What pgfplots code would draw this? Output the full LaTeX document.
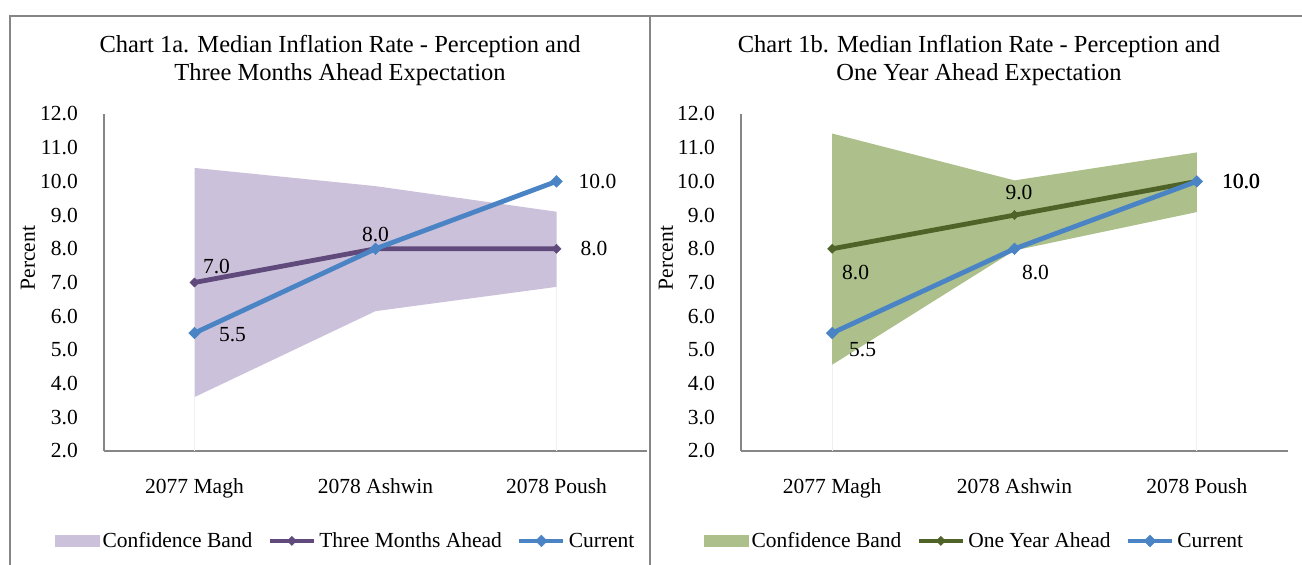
\documentclass[border=0pt]{standalone}
\usepackage{fontspec}
\setmainfont{Liberation Serif}
\usepackage{pgfplots}
\pgfplotsset{compat=1.18}
\usepgfplotslibrary{fillbetween}
\definecolor{bandA}{HTML}{CCC1DA}
\definecolor{lineA}{HTML}{5F4A7B}
\definecolor{blueC}{HTML}{4A84C4}
\definecolor{bandB}{HTML}{ADC08B}
\definecolor{lineB}{HTML}{4F6228}
\definecolor{frame}{HTML}{868686}
\newcommand\lbl{\fontsize{21.5}{25}\selectfont}
\pgfplotsset{
  panel/.style={
    scale only axis, height=337pt,
    xmin=-0.5, xmax=2.5, ymin=2, ymax=12,
    xtick={0,1,2}, xticklabels={2077 Magh, 2078 Ashwin, 2078 Poush},
    ytick={2,3,...,12},
    /pgf/number format/assume math mode=true,
    axis x line*=bottom, axis y line*=left,
    axis line style={draw=frame, line width=1.5pt},
    major tick length=0pt,
    tick label style={font=\lbl},
    xticklabel style={anchor=base, yshift=-42.5pt},
    yticklabel style={anchor=east, inner sep=0pt, xshift=-26pt,
      /pgf/number format/fixed, /pgf/number format/fixed zerofill,
      /pgf/number format/precision=1},
    clip=false,
    legend columns=3,
    legend style={draw=none, fill=none, inner sep=0pt, font=\lbl,
      nodes={inner xsep=3pt, inner ysep=0pt},
      /tikz/every even column/.append style={column sep=12pt}},
    legend cell align=left,
  },
  linelegend/.style={legend image code/.code={
    \draw[mark repeat=2,mark phase=2,##1] plot coordinates {(0pt,0pt) (22pt,0pt) (44pt,0pt)};}},
}
\begin{document}
\begin{tikzpicture}
\draw[frame, line width=1.5pt] (10pt,0pt) -- (10pt,549pt) -- (650pt,549pt) -- (650pt,0pt);
\draw[frame, line width=1.5pt] (650pt,549pt) -- (1302pt,549pt);

\node[align=center, font=\fontsize{24.5}{28}\selectfont] at (340pt,505pt)
  {Chart 1a. Median Inflation Rate - Perception and\\Three Months Ahead Expectation};
\node[align=center, font=\fontsize{24.5}{28}\selectfont] at (979pt,505pt)
  {Chart 1b. Median Inflation Rate - Perception and\\One Year Ahead Expectation};
\node[rotate=90, font=\lbl] at (28pt,307pt) {Percent};
\node[rotate=90, font=\lbl] at (666pt,307pt) {Percent};

% ---------- Panel a ----------
\begin{axis}[panel, width=543pt, at={(104pt,114pt)}, anchor=south west,
  legend style={at={(-0.0902,-0.267)}, anchor=west}]
\addlegendimage{legend image code/.code={\fill[bandA] (0pt,-5.5pt) rectangle (44pt,5.5pt);}}
\addlegendentry{Confidence Band}
\addplot[name path=UA, draw=none, forget plot] coordinates {(0,10.4) (1,9.86) (2,9.1)};
\addplot[name path=LA, draw=none, forget plot] coordinates {(0,3.6) (1,6.15) (2,6.87)};
\addplot[fill=bandA, draw=none, forget plot] fill between[of=UA and LA];
\addplot[black!6, line width=0.8pt, forget plot] coordinates {(0,2) (0,3.6)};
\addplot[black!6, line width=0.8pt, forget plot] coordinates {(2,2) (2,6.87)};
\addplot[linelegend, lineA, line width=4.8pt, mark=square*, mark size=3.2pt,
  mark options={rotate=45, line width=0.5pt}] coordinates {(0,7) (1,8) (2,8)};
\addlegendentry{Three Months Ahead}
\addplot[linelegend, blueC, line width=4.8pt, mark=square*, mark size=4.1pt,
  mark options={rotate=45, line width=0.5pt}] coordinates {(0,5.5) (1,8) (2,10)};
\addlegendentry{Current}
\node[font=\lbl, inner sep=0pt, xshift=22pt, yshift=15.5pt] at (axis cs:0,7) {7.0};
\node[font=\lbl, inner sep=0pt, xshift=38pt, yshift=-2pt] at (axis cs:0,5.5) {5.5};
\node[font=\lbl, inner sep=0pt, xshift=0pt, yshift=14pt] at (axis cs:1,8) {8.0};
\node[font=\lbl, inner sep=0pt, xshift=41pt] at (axis cs:2,10) {10.0};
\node[font=\lbl, inner sep=0pt, xshift=37.5pt] at (axis cs:2,8) {8.0};
\end{axis}

% ---------- Panel b ----------
\begin{axis}[panel, width=547pt, at={(741pt,114pt)}, anchor=south west,
  legend style={at={(-0.0676,-0.267)}, anchor=west}]
\addlegendimage{legend image code/.code={\fill[bandB] (0pt,-5.5pt) rectangle (44pt,5.5pt);}}
\addlegendentry{Confidence Band}
\addplot[name path=UB, draw=none, forget plot] coordinates {(0,11.42) (1,10.03) (2,10.86)};
\addplot[name path=LB, draw=none, forget plot] coordinates {(0,4.56) (1,7.95) (2,9.09)};
\addplot[fill=bandB, draw=none, forget plot] fill between[of=UB and LB];
\addplot[black!6, line width=0.8pt, forget plot] coordinates {(0,2) (0,4.56)};
\addplot[black!6, line width=0.8pt, forget plot] coordinates {(2,2) (2,9.09)};
\addplot[linelegend, lineB, line width=4.8pt, mark=square*, mark size=3.2pt,
  mark options={rotate=45, line width=0.5pt}] coordinates {(0,8) (1,9) (2,10)};
\addlegendentry{One Year Ahead}
\addplot[linelegend, blueC, line width=4.8pt, mark=square*, mark size=4.1pt,
  mark options={rotate=45, line width=0.5pt}] coordinates {(0,5.5) (1,8) (2,10)};
\addlegendentry{Current}
\node[font=\lbl, inner sep=0pt, xshift=23.5pt, yshift=-24pt] at (axis cs:0,8) {8.0};
\node[font=\lbl, inner sep=0pt, xshift=30.5pt, yshift=-17pt] at (axis cs:0,5.5) {5.5};
\node[font=\lbl, inner sep=0pt, xshift=4.5pt, yshift=23pt] at (axis cs:1,9) {9.0};
\node[font=\lbl, inner sep=0pt, xshift=21pt, yshift=-24pt] at (axis cs:1,8) {8.0};
\node[font=\lbl, inner sep=0pt, xshift=44pt] at (axis cs:2,10) {10.0};
\node[font=\lbl, inner sep=0pt, xshift=44.4pt] at (axis cs:2,10) {10.0};
\end{axis}
\pgfresetboundingbox
\path[use as bounding box] (0pt,0pt) rectangle (1302pt,565pt);
\end{tikzpicture}
\end{document}
